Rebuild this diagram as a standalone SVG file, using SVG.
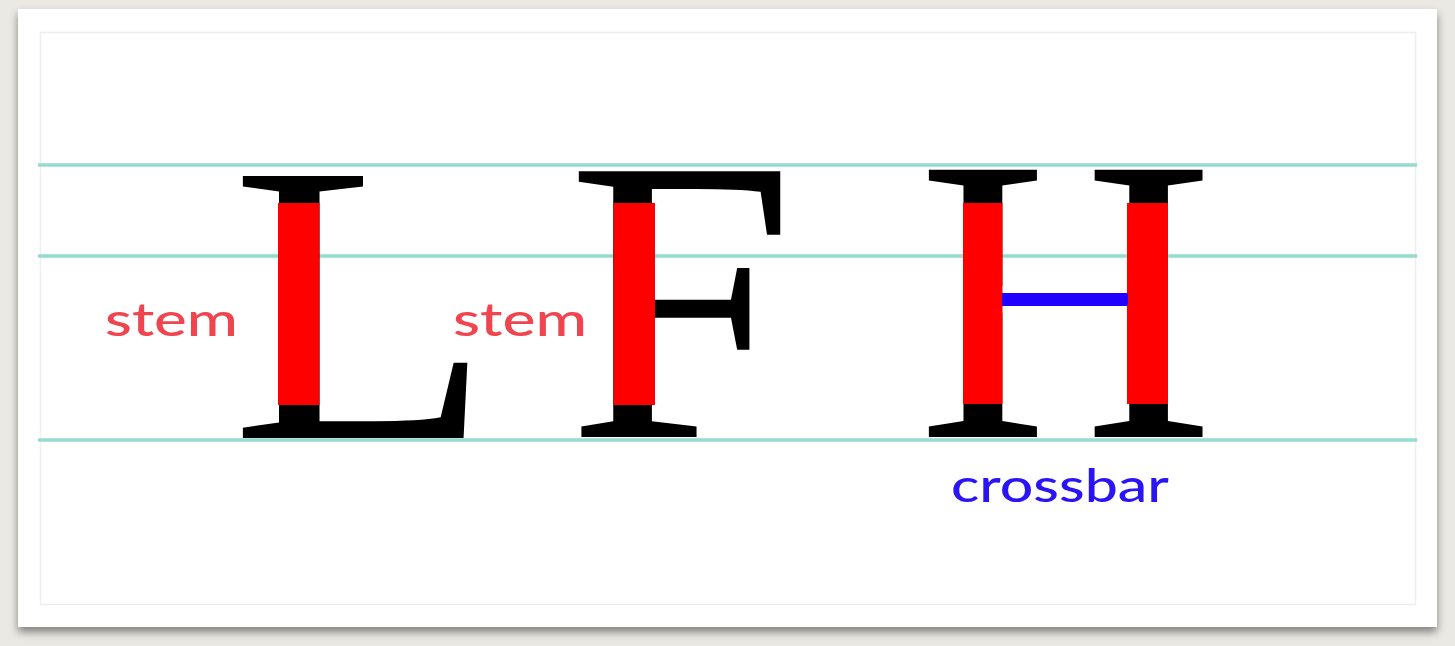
<svg xmlns="http://www.w3.org/2000/svg" width="1455" height="646" viewBox="0 0 1455 646">
  <style>
    .guide { stroke: #93dccf; stroke-width: 3.5; fill: none; }
    .glyph { font-family: "Liberation Serif", "Times New Roman", serif; fill: #000; }
    .stem { fill: #ff0000; }
    .lbl { font-family: Lato, "Open Sans", sans-serif; font-weight: 500; }
  </style>
  <defs>
    <filter id="shadow" x="-5%" y="-5%" width="110%" height="115%">
      <feDropShadow dx="0" dy="5" stdDeviation="4" flood-color="#000" flood-opacity="0.45"/>
    </filter>
  </defs>

  <g id="background">
    <rect x="0" y="0" width="1455" height="646" fill="#ebe9e3"/>
    <rect x="18" y="9" width="1419" height="618" fill="#ffffff" filter="url(#shadow)"/>
    <rect x="40.5" y="32.5" width="1375" height="572" fill="none" stroke="#efefef" stroke-width="1.5"/>
  </g>

  <g id="guides">
    <line class="guide" x1="38" y1="165" x2="1417" y2="165"/>
    <line class="guide" x1="38" y1="256" x2="1417" y2="256"/>
    <line class="guide" x1="38" y1="440" x2="1417" y2="440"/>
  </g>

  <g id="letter-L">
    <text class="glyph" font-size="400" transform="translate(230.5,438) scale(1.075,1)">L</text>
    <rect class="stem" x="278" y="203" width="41.5" height="202"/>
  </g>

  <g id="letter-F">
    <text class="glyph" font-size="406" transform="translate(567,437) scale(1.01,1)">F</text>
    <rect class="stem" x="613.5" y="203" width="41.5" height="202"/>
  </g>

  <g id="letter-H">
    <text class="glyph" font-size="408" transform="translate(917,437) scale(1.01,1)">H</text>
    <rect x="1000" y="286" width="130" height="27" fill="#ffffff"/>
    <rect class="stem" x="963" y="203" width="39.5" height="201"/>
    <rect class="stem" x="1127" y="203" width="41" height="201"/>
    <rect x="1002" y="293" width="126" height="13" fill="#2200ff"/>
  </g>

  <g id="labels">
    <text class="lbl" x="105" y="336" font-size="46" fill="#f0444f" textLength="133" lengthAdjust="spacingAndGlyphs">stem</text>
    <text class="lbl" x="453" y="336" font-size="46" fill="#f0444f" textLength="134" lengthAdjust="spacingAndGlyphs">stem</text>
    <text class="lbl" x="951" y="502" font-size="46" fill="#2a14f5" textLength="218" lengthAdjust="spacingAndGlyphs">crossbar</text>
  </g>
</svg>
